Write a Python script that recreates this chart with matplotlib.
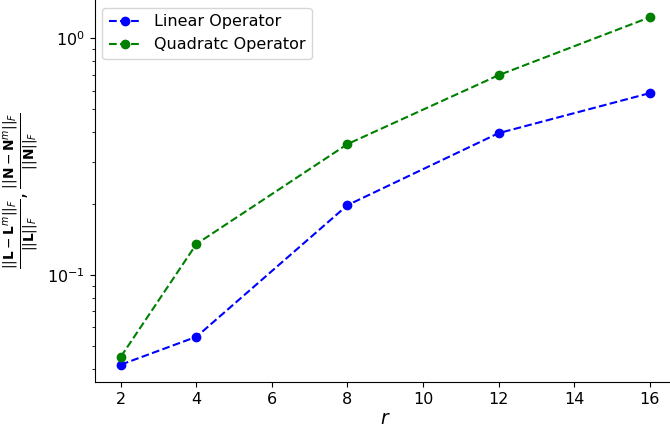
import numpy as np
import matplotlib.pyplot as plt

# 秩 r
r = [2, 4, 8, 12, 16]
# 相对误差
linear_err = [0.0417, 0.0547, 0.197, 0.397, 0.586]
quad_err = [0.0451, 0.135, 0.357, 0.698, 1.226]

fig = plt.figure(figsize=(6.7, 4.29), dpi=100)
ax = fig.add_axes([94.5 / 670, 47 / 429, 581.5 / 670, 382 / 429])

ax.plot(r, linear_err, 'b--o', label='Linear Operator')
ax.plot(r, quad_err, 'g--o', label='Quadratc Operator')
ax.set_yscale('log')

ax.spines['top'].set_visible(False)
ax.spines['right'].set_visible(False)
ax.tick_params(labelsize=11.5)

ax.set_xlabel('$r$', fontsize=13.5, labelpad=2)
ax.set_ylabel(r'$\frac{||\mathbf{L}-\mathbf{L}^{m}||_F}{||\mathbf{L}||_F}, '
              r'\frac{||\mathbf{N}-\mathbf{N}^{m}||_F}{||\mathbf{N}||_F}$', fontsize=14)
ax.legend(fontsize=11.5, loc='upper left')

fig.savefig('out.png')
